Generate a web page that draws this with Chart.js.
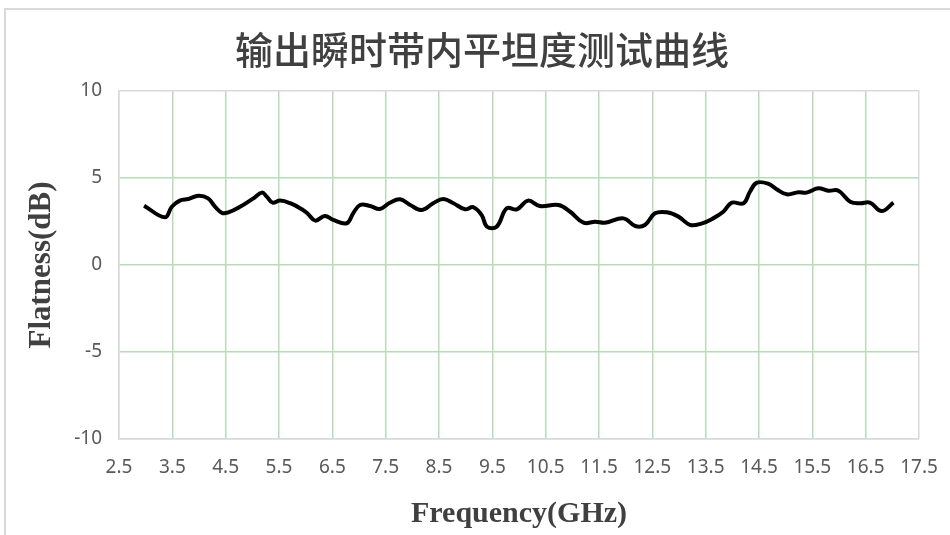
<!DOCTYPE html>
<html>
<head>
<meta charset="utf-8">
<script src="https://cdn.jsdelivr.net/npm/chart.js@4.4.1/dist/chart.umd.min.js"></script>
<style>
  html, body { margin: 0; padding: 0; background: #ffffff; }
  #wrap { position: relative; width: 950px; height: 535px; overflow: hidden; }
  #frame { position: absolute; left: 4px; top: 8px; width: 960px; height: 560px;
           border-top: 2px solid #d9d9d9; border-left: 2px solid #d9d9d9; box-sizing: border-box; }
  canvas { position: absolute; left: 0; top: 0; }
</style>
</head>
<body>
<div id="wrap">
  <div id="frame"></div>
  <canvas id="c" width="950" height="535"></canvas>
</div>
<script>
// ---- data ----
const chartTitle = "输出瞬时带内平坦度测试曲线";
const xTitle = "Frequency(GHz)";
const yTitle = "Flatness(dB)";
const xTickValues = [2.5, 3.5, 4.5, 5.5, 6.5, 7.5, 8.5, 9.5, 10.5, 11.5, 12.5, 13.5, 14.5, 15.5, 16.5, 17.5];
const yTickValues = [-10, -5, 0, 5, 10];
const frequency = [
  2.97, 3.36, 3.49, 3.64, 3.80, 3.99, 4.17, 4.30, 4.43, 4.55, 4.77, 5.02, 5.18, 5.27, 5.38, 5.52, 5.71, 5.93,
  6.04, 6.18, 6.36, 6.52, 6.77, 6.89, 7.02, 7.21, 7.39, 7.58, 7.77, 7.96, 8.18, 8.39, 8.58, 8.77, 8.99, 9.14,
  9.30, 9.40, 9.58, 9.77, 9.96, 10.17, 10.39, 10.74, 10.96, 11.21, 11.43, 11.61, 11.96, 12.18, 12.36, 12.55,
  12.77, 12.99, 13.21, 13.42, 13.64, 13.83, 13.99, 14.21, 14.33, 14.46, 14.68, 14.83, 15.02, 15.24, 15.39,
  15.61, 15.80, 15.99, 16.21, 16.40, 16.58, 16.80, 17.02
];
const flatness = [
  3.41, 2.74, 3.35, 3.70, 3.79, 3.98, 3.83, 3.35, 3.00, 3.03, 3.35, 3.83, 4.16, 3.93, 3.58, 3.70, 3.55, 3.20,
  2.95, 2.55, 2.82, 2.59, 2.40, 2.97, 3.45, 3.39, 3.22, 3.58, 3.78, 3.45, 3.16, 3.55, 3.79, 3.55, 3.20, 3.32,
  2.87, 2.20, 2.20, 3.26, 3.20, 3.70, 3.39, 3.45, 3.06, 2.43, 2.49, 2.43, 2.68, 2.24, 2.30, 2.97,
  3.03, 2.78, 2.30, 2.38, 2.68, 3.06, 3.58, 3.55, 4.21, 4.73, 4.66, 4.35, 4.06, 4.18, 4.16,
  4.41, 4.27, 4.27, 3.64, 3.55, 3.58, 3.10, 3.58
];

const points = frequency.map((f, i) => ({ x: f, y: flatness[i] }));
const GREEN = '#b7ddb7';
const GRAY = '#d9d9d9';
const LEFT_PAD = 45;

new Chart(document.getElementById('c'), {
  type: 'line',
  data: {
    datasets: [{
      data: points,
      borderColor: '#000000',
      borderWidth: 4,
      pointRadius: 0,
      tension: 0.4,
      fill: false
    }]
  },
  options: {
    responsive: false,
    animation: false,
    devicePixelRatio: 1,
    layout: { padding: { left: LEFT_PAD, right: 31, top: 0, bottom: 0 } },
    plugins: {
      legend: { display: false },
      tooltip: { enabled: false },
      title: {
        display: true,
        text: chartTitle,
        color: '#404040',
        font: { family: '"Noto Sans CJK SC", sans-serif', size: 38, weight: 500, lineHeight: 1.2 },
        padding: { top: 27, bottom: 18.4 }
      }
    },
    scales: {
      x: {
        type: 'linear',
        min: xTickValues[0],
        max: xTickValues[xTickValues.length - 1],
        afterBuildTicks: (s) => { s.ticks = xTickValues.map(v => ({ value: v })); },
        afterFit: (s) => { s.height = 96; s.paddingLeft = 0; s.paddingRight = 0; },
        ticks: {
          color: '#595959',
          font: { family: '"Noto Sans", sans-serif', size: 19 },
          padding: 17,
          maxRotation: 0,
          autoSkip: false,
          callback: (v) => String(v)
        },
        grid: {
          drawTicks: false,
          lineWidth: 1.5,
          color: (ctx) => (ctx.tick && (ctx.tick.value === xTickValues[0] || ctx.tick.value === xTickValues[xTickValues.length - 1])) ? GRAY : GREEN
        },
        border: { display: true, color: GRAY, width: 1.5 },
        title: {
          display: true,
          text: xTitle,
          color: '#404040',
          font: { family: '"Liberation Serif", serif', size: 30, weight: 'bold', lineHeight: 1.2 },
          padding: { top: 0, bottom: 3 }
        }
      },
      y: {
        min: -10,
        max: 10,
        afterBuildTicks: (s) => { s.ticks = yTickValues.map(v => ({ value: v })); },
        afterFit: (s) => { s.width = 119 - LEFT_PAD; },
        ticks: {
          color: '#595959',
          font: { family: '"Noto Sans", sans-serif', size: 19 },
          padding: 17
        },
        grid: {
          drawTicks: false,
          lineWidth: 1.5,
          color: (ctx) => (ctx.tick && (ctx.tick.value === 10 || ctx.tick.value === -10)) ? GRAY : GREEN
        },
        border: { display: true, color: GRAY, width: 1.5 },
        title: {
          display: true,
          text: yTitle,
          color: '#404040',
          font: { family: '"Liberation Serif", serif', size: 31, weight: 'bold', lineHeight: 1.0 },
          padding: { top: -19, bottom: 0 }
        }
      }
    }
  }
});
</script>
</body>
</html>
